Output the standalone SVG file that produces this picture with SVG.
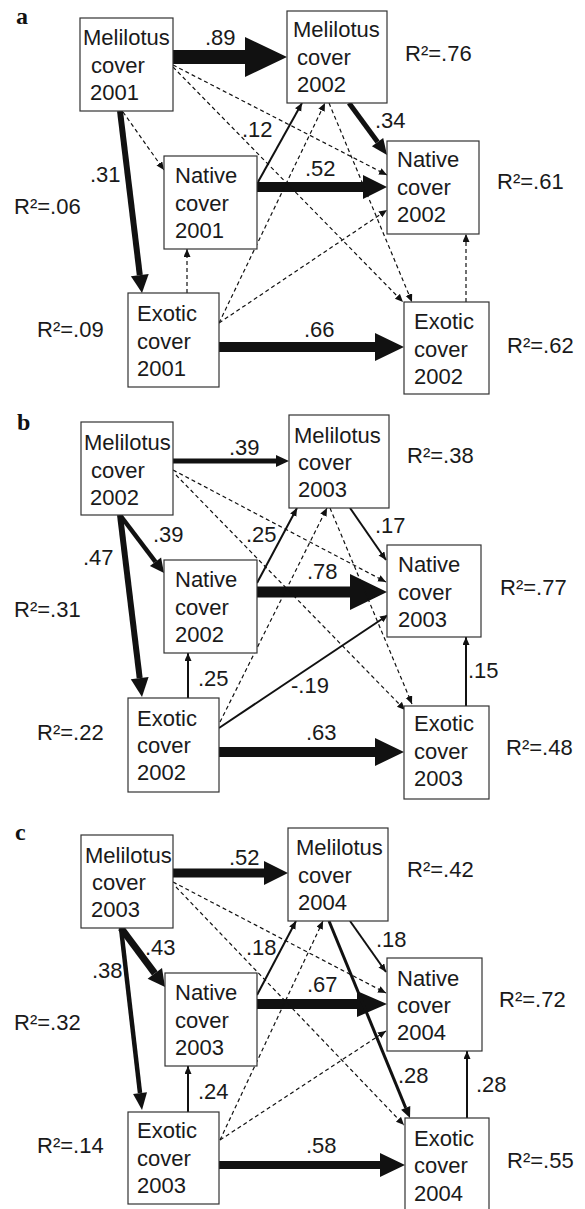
<svg xmlns="http://www.w3.org/2000/svg" width="585" height="1209" viewBox="0 0 585 1209">
<style>
.box{fill:#fff;stroke:#333;stroke-width:1.2}
.t{font-family:"Liberation Sans",Arial,sans-serif;font-size:22px;fill:#1a1a1a}
.pl{font-family:"Liberation Serif","Times New Roman",serif;font-weight:bold;font-size:24px;fill:#111}
.d{stroke:#111;stroke-width:1.2;stroke-dasharray:4 3;fill:none;marker-end:url(#ah)}
.s{stroke:#111;stroke-width:2;fill:none;marker-end:url(#ah)}
.k{stroke:#111;fill:none}
.f{fill:#111;stroke:none}
</style>
<defs>
<marker id="ah" markerUnits="userSpaceOnUse" markerWidth="10" markerHeight="8" refX="8" refY="3.5" orient="auto"><path d="M0,0 L8,3.5 L0,7 z" fill="#111"/></marker>
</defs>
<rect width="585" height="1209" fill="#fff"/>

<g id="connectors">
<!-- panel a -->
<polygon class="f" points="173,50 245,50 245,37 287,57 245,77 245,64 173,64"/>
<line class="k" x1="120" y1="111" x2="139.8" y2="275.1" stroke-width="6"/>
<polygon class="f" points="130.9,276.2 142,293 148.7,274"/>
<line class="d" x1="123" y1="112" x2="164" y2="170"/>
<polygon class="f" points="257,182 363,182 363,175 387,187 363,199 363,192 257,192"/>
<line class="s" x1="258" y1="182" x2="302" y2="103" stroke-width="1.6"/>
<line class="k" x1="349" y1="103" x2="377.6" y2="142.1" stroke-width="5"/>
<polygon class="f" points="371.9,146.2 387,155 383.2,138"/>
<line class="d" x1="173" y1="65" x2="387" y2="175"/>
<line class="d" x1="173" y1="67" x2="403" y2="302"/>
<line class="d" x1="219" y1="323" x2="325" y2="103"/>
<line class="d" x1="219" y1="323" x2="387" y2="210"/>
<line class="d" x1="329" y1="103" x2="412" y2="302"/>
<line class="d" x1="187" y1="293" x2="187" y2="249"/>
<line class="d" x1="466" y1="302" x2="466" y2="234"/>
<polygon class="f" points="219,342 375,342 375,333 404,347 375,361 375,352 219,352"/>
<!-- panel b -->
<polygon class="f" points="173,458.5 276,458.5 276,455 289,461 276,467 276,463.5 173,463.5"/>
<line class="k" x1="120" y1="515" x2="155.5" y2="561.8" stroke-width="4.5"/>
<polygon class="f" points="149.9,566.1 164,573 161.1,557.6"/>
<line class="k" x1="120" y1="515" x2="139.7" y2="678.1" stroke-width="6"/>
<polygon class="f" points="130.8,679.2 142,697 148.6,677"/>
<line class="s" x1="257" y1="583" x2="297" y2="508"/>
<polygon class="f" points="257,586.5 350,586.5 350,574 387,592 350,610 350,597.5 257,597.5"/>
<line class="s" x1="350" y1="508" x2="386" y2="560"/>
<line class="d" x1="173" y1="470" x2="386" y2="582"/>
<line class="d" x1="176" y1="475" x2="405" y2="710"/>
<line class="d" x1="220" y1="722" x2="327" y2="508"/>
<line class="d" x1="330" y1="508" x2="412" y2="704"/>
<line class="s" x1="219" y1="728" x2="388" y2="615" stroke-width="1.6"/>
<line class="s" x1="188" y1="698" x2="188" y2="653"/>
<polygon class="f" points="219,747 375,747 375,738 404,752 375,766 375,757 219,757"/>
<line class="s" x1="466" y1="706" x2="466" y2="637"/>
<!-- panel c -->
<polygon class="f" points="173,868.5 264,868.5 264,861 288,873 264,885 264,877.5 173,877.5"/>
<line class="k" x1="121" y1="928" x2="154.8" y2="973.4" stroke-width="7"/>
<polygon class="f" points="147.6,978.8 165,987 162,968"/>
<line class="k" x1="121" y1="928" x2="140" y2="1093.1" stroke-width="4.5"/>
<polygon class="f" points="133.1,1093.9 142,1110 147,1092.3"/>
<line class="s" x1="257" y1="995" x2="296" y2="921"/>
<polygon class="f" points="257,999 357,999 357,991 387,1004 357,1017 357,1009 257,1009"/>
<line class="s" x1="350" y1="921" x2="386" y2="972"/>
<line class="k" x1="329" y1="921" x2="405.7" y2="1107.9" stroke-width="3"/>
<polygon class="f" points="401.1,1109.8 410,1118 410.3,1106"/>
<line class="d" x1="173" y1="882" x2="386" y2="993"/>
<line class="d" x1="176" y1="887" x2="404" y2="1125"/>
<line class="d" x1="220" y1="1140" x2="323" y2="921"/>
<line class="d" x1="220" y1="1140" x2="386" y2="1031"/>
<line class="s" x1="188" y1="1112" x2="188" y2="1066"/>
<polygon class="f" points="219,1161 380,1161 380,1153 405,1165 380,1177 380,1169 219,1169"/>
<line class="s" x1="467" y1="1118" x2="467" y2="1051" stroke-width="2.5"/>
</g>

<g id="coefficients" class="t">
<text x="205" y="45">.89</text>
<text x="90" y="182">.31</text>
<text x="242" y="137">.12</text>
<text x="305" y="176">.52</text>
<text x="375" y="128">.34</text>
<text x="304" y="337">.66</text>
<text x="229" y="455">.39</text>
<text x="153" y="542">.39</text>
<text x="83" y="565">.47</text>
<text x="246" y="542">.25</text>
<text x="375" y="533">.17</text>
<text x="307" y="579">.78</text>
<text x="198" y="686">.25</text>
<text x="291" y="693">-.19</text>
<text x="306" y="740">.63</text>
<text x="468" y="678">.15</text>
<text x="229" y="865">.52</text>
<text x="145" y="955">.43</text>
<text x="92" y="978">.38</text>
<text x="246" y="955">.18</text>
<text x="376" y="947">.18</text>
<text x="307" y="992">.67</text>
<text x="398" y="1083">.28</text>
<text x="198" y="1099">.24</text>
<text x="306" y="1153">.58</text>
<text x="476" y="1092">.28</text>
</g>

<g id="r2" class="t">
<text x="405" y="61">R²=.76</text>
<text x="497" y="189">R²=.61</text>
<text x="14" y="214">R²=.06</text>
<text x="37" y="337">R²=.09</text>
<text x="507" y="353">R²=.62</text>
<text x="407" y="463">R²=.38</text>
<text x="500" y="595">R²=.77</text>
<text x="14" y="617">R²=.31</text>
<text x="37" y="740">R²=.22</text>
<text x="506" y="755">R²=.48</text>
<text x="407" y="877">R²=.42</text>
<text x="499" y="1007">R²=.72</text>
<text x="14" y="1030">R²=.32</text>
<text x="37" y="1153">R²=.14</text>
<text x="507" y="1168">R²=.55</text>
</g>

<g id="panel-labels" class="pl">
<text x="16" y="24">a</text>
<text x="17" y="430">b</text>
<text x="15" y="840">c</text>
</g>

<!-- panel a nodes -->
<g id="mel2001a"><rect class="box" x="80" y="18" width="93" height="93"/><text class="t" x="83" y="45">Melilotus</text><text class="t" x="91" y="73">cover</text><text class="t" x="90" y="100">2001</text></g>
<g id="mel2002a"><rect class="box" x="287" y="11" width="100" height="92"/><text class="t" x="293" y="37">Melilotus</text><text class="t" x="297" y="65">cover</text><text class="t" x="297" y="92">2002</text></g>
<g id="nat2001a"><rect class="box" x="164" y="156" width="93" height="93"/><text class="t" x="175" y="183">Native</text><text class="t" x="175" y="211">cover</text><text class="t" x="175" y="238">2001</text></g>
<g id="nat2002a"><rect class="box" x="387" y="141" width="92" height="93"/><text class="t" x="397" y="167">Native</text><text class="t" x="397" y="195">cover</text><text class="t" x="397" y="222">2002</text></g>
<g id="exo2001a"><rect class="box" x="128" y="293" width="91" height="94"/><text class="t" x="137" y="321">Exotic</text><text class="t" x="137" y="349">cover</text><text class="t" x="137" y="376">2001</text></g>
<g id="exo2002a"><rect class="box" x="404" y="302" width="85" height="92"/><text class="t" x="414" y="329">Exotic</text><text class="t" x="414" y="357">cover</text><text class="t" x="414" y="384">2002</text></g>

<!-- panel b nodes -->
<g id="mel2002b"><rect class="box" x="81" y="422" width="92" height="93"/><text class="t" x="84" y="450">Melilotus</text><text class="t" x="91" y="478">cover</text><text class="t" x="90" y="505">2002</text></g>
<g id="mel2003b"><rect class="box" x="289" y="415" width="100" height="93"/><text class="t" x="294" y="443">Melilotus</text><text class="t" x="298" y="470">cover</text><text class="t" x="298" y="497">2003</text></g>
<g id="nat2002b"><rect class="box" x="164" y="560" width="93" height="93"/><text class="t" x="175" y="587">Native</text><text class="t" x="175" y="615">cover</text><text class="t" x="175" y="642">2002</text></g>
<g id="nat2003b"><rect class="box" x="387" y="545" width="94" height="92"/><text class="t" x="398" y="572">Native</text><text class="t" x="398" y="600">cover</text><text class="t" x="398" y="627">2003</text></g>
<g id="exo2002b"><rect class="box" x="128" y="698" width="91" height="94"/><text class="t" x="137" y="726">Exotic</text><text class="t" x="137" y="753">cover</text><text class="t" x="137" y="780">2002</text></g>
<g id="exo2003b"><rect class="box" x="404" y="706" width="85" height="93"/><text class="t" x="414" y="731">Exotic</text><text class="t" x="414" y="759">cover</text><text class="t" x="414" y="786">2003</text></g>

<!-- panel c nodes -->
<g id="mel2003c"><rect class="box" x="81" y="835" width="92" height="93"/><text class="t" x="85" y="863">Melilotus</text><text class="t" x="92" y="890">cover</text><text class="t" x="91" y="917">2003</text></g>
<g id="mel2004c"><rect class="box" x="288" y="828" width="100" height="93"/><text class="t" x="296" y="855">Melilotus</text><text class="t" x="298" y="883">cover</text><text class="t" x="298" y="910">2004</text></g>
<g id="nat2003c"><rect class="box" x="165" y="973" width="92" height="93"/><text class="t" x="175" y="1000">Native</text><text class="t" x="175" y="1028">cover</text><text class="t" x="175" y="1055">2003</text></g>
<g id="nat2004c"><rect class="box" x="387" y="958" width="95" height="93"/><text class="t" x="397" y="986">Native</text><text class="t" x="397" y="1013">cover</text><text class="t" x="397" y="1040">2004</text></g>
<g id="exo2003c"><rect class="box" x="128" y="1112" width="91" height="92"/><text class="t" x="137" y="1138">Exotic</text><text class="t" x="137" y="1166">cover</text><text class="t" x="137" y="1193">2003</text></g>
<g id="exo2004c"><rect class="box" x="405" y="1118" width="84" height="100"/><text class="t" x="414" y="1146">Exotic</text><text class="t" x="414" y="1173">cover</text><text class="t" x="414" y="1201">2004</text></g>
</svg>
